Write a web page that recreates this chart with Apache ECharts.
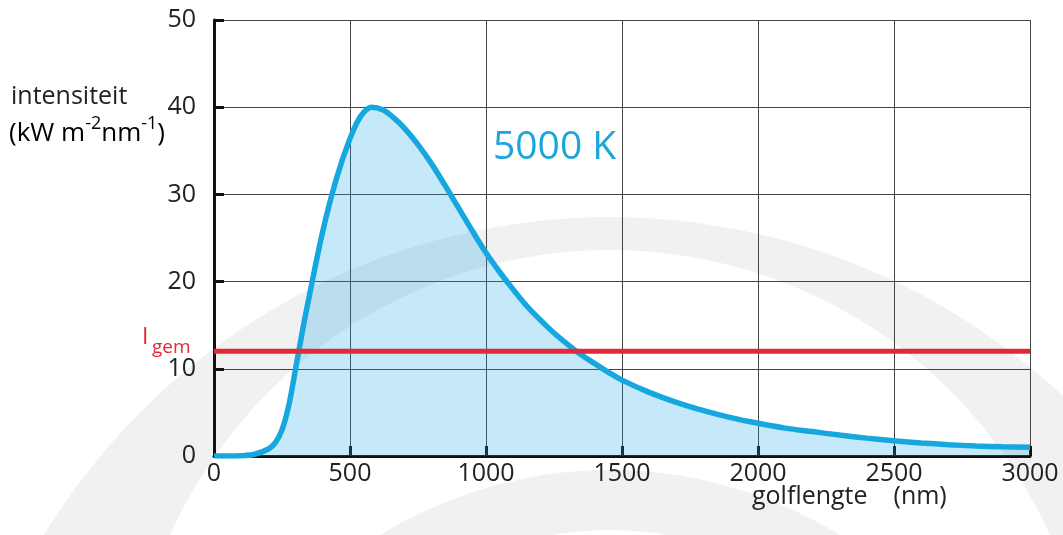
<!DOCTYPE html>
<html>
<head>
<meta charset="utf-8">
<script src="https://cdn.jsdelivr.net/npm/echarts@6/dist/echarts.min.js"></script>
<style>html,body{margin:0;padding:0;background:#fff}#c{width:1063px;height:535px}</style>
</head>
<body>
<div id="c"></div>
<script>
// wavelength (nm) and intensity (kW m^-2 nm^-1)
var wavelengths = [0, 50, 100, 150, 200, 225, 250, 275, 300, 325, 350, 400, 450, 500, 540, 580, 620, 660, 700, 750, 800, 850, 900, 950, 1000, 1050, 1100, 1150, 1200, 1250, 1300, 1350, 1400, 1450, 1500, 1600, 1700, 1800, 1900, 2000, 2100, 2200, 2300, 2400, 2500, 2600, 2700, 2800, 2900, 3000];
var intensity   = [0, 0, 0.03, 0.2, 0.8, 1.5, 3.0, 5.8, 10, 14.3, 18.3, 25.8, 31.8, 36.4, 39.0, 40.0, 39.7, 38.8, 37.6, 35.7, 33.5, 31.0, 28.4, 25.8, 23.3, 21.1, 19.1, 17.2, 15.6, 14.1, 12.8, 11.6, 10.6, 9.6, 8.7, 7.3, 6.15, 5.2, 4.4, 3.75, 3.2, 2.8, 2.4, 2.05, 1.75, 1.5, 1.3, 1.15, 1.05, 1.0];
var averageLevel = 12;
var xTicks = [0, 500, 1000, 1500, 2000, 2500, 3000];
var yTicks = [0, 10, 20, 30, 40, 50];

var curve = wavelengths.map(function (w, i) { return [w, intensity[i]]; });
var avgLine = [[xTicks[0], averageLevel], [xTicks[xTicks.length - 1], averageLevel]];

var FONT = 'Open Sans';
var chart = echarts.init(document.getElementById('c'), null, {renderer: 'canvas'});
chart.setOption({
  backgroundColor: '#ffffff',
  animation: false,
  textStyle: {fontFamily: FONT},
  grid: {left: 214, right: 33, top: 20, bottom: 79, containLabel: false},
  xAxis: {
    type: 'value', min: 0, max: 3000, interval: 500,
    axisLine: {show: true, lineStyle: {color: '#111', width: 3}},
    axisTick: {show: true, inside: true, length: 10, lineStyle: {color: '#111', width: 3}},
    axisLabel: {fontSize: 25, color: '#222', margin: 5, fontFamily: FONT,
      formatter: function (v) { return xTicks.indexOf(v) >= 0 ? String(v) : ''; }},
    splitLine: {show: true, lineStyle: {color: '#444', width: 1}}
  },
  yAxis: {
    type: 'value', min: 0, max: 50, interval: 10,
    axisLine: {show: true, lineStyle: {color: '#111', width: 3}},
    axisTick: {show: true, inside: true, length: 10, lineStyle: {color: '#111', width: 3}},
    axisLabel: {fontSize: 25, color: '#222', margin: 18, fontFamily: FONT,
      formatter: function (v) { return yTicks.indexOf(v) >= 0 ? String(v) : ''; }},
    splitLine: {show: true, lineStyle: {color: '#444', width: 1}}
  },
  series: [
    {
      type: 'line', data: curve, smooth: 0.35, symbol: 'none', z: 3,
      lineStyle: {color: '#17a7df', width: 5.5},
      areaStyle: {color: 'rgba(22,168,228,0.36)'}
    },
    {
      type: 'line', data: avgLine, symbol: 'none', z: 4,
      lineStyle: {color: '#e3283a', width: 5}
    }
  ],
  graphic: [
    {type: 'circle', z: -10, silent: true, shape: {cx: 610, cy: 880, r: 663}, style: {fill: '#f1f1f1'}},
    {type: 'circle', z: -9, silent: true, shape: {cx: 610, cy: 732, r: 482}, style: {fill: '#ffffff'}},
    {type: 'circle', z: -8, silent: true, shape: {cx: 610, cy: 909, r: 439}, style: {fill: '#f1f1f1'}},
    {type: 'circle', z: -7, silent: true, shape: {cx: 610, cy: 860, r: 330}, style: {fill: '#ffffff'}},
    {type: 'text', z: 100, left: 11, top: 84, style: {text: 'intensiteit', font: '25px "Open Sans"', fill: '#222'}},
    {type: 'text', z: 100, left: 9, top: 115, style: {
      text: '{b|(kW m}{s|-2}{b|nm}{s|-1}{b|)}',
      rich: {
        b: {fontSize: 26, fontFamily: FONT, color: '#222', lineHeight: 32, verticalAlign: 'bottom'},
        s: {fontSize: 18, fontFamily: FONT, color: '#222', lineHeight: 17, verticalAlign: 'top'}
      }
    }},
    {type: 'text', z: 100, left: 493, top: 128, style: {text: '5000 K', font: '39px "Open Sans"', fill: '#1aa6dd'}},
    {type: 'text', z: 100, left: 142, top: 326, style: {text: 'I', font: '23px "Open Sans"', fill: '#e3283a'}},
    {type: 'text', z: 100, left: 152, top: 338, style: {text: 'gem', font: '19px "Open Sans"', fill: '#e3283a'}},
    {type: 'text', z: 100, left: 752, top: 484, style: {text: 'golflengte    (nm)', font: '25px "Open Sans"', fill: '#222'}}
  ]
});
</script>
</body>
</html>
